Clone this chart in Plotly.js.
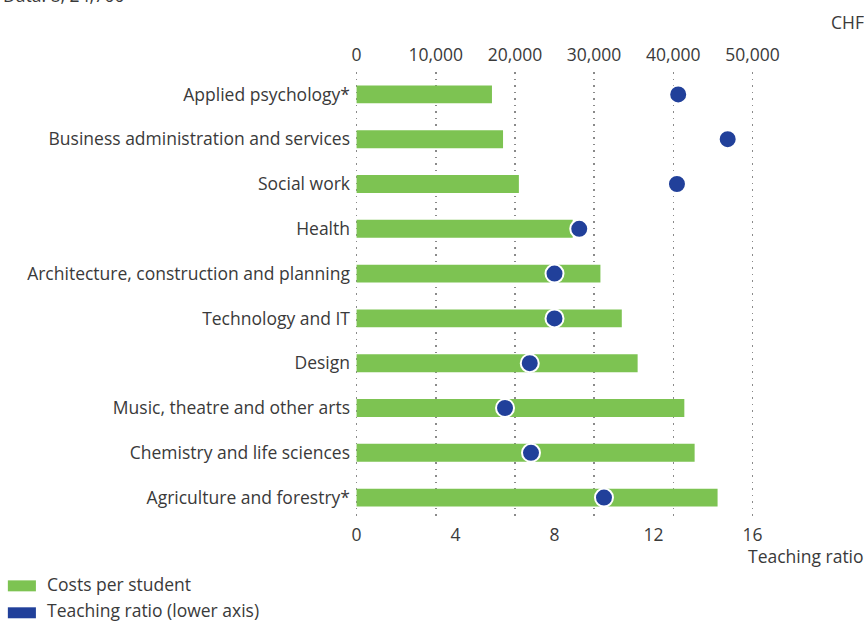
<!DOCTYPE html>
<html><head><meta charset="utf-8">
<script src="https://cdn.plot.ly/plotly-3.0.1.min.js"></script>
<style>body{margin:0;padding:0;background:#fff}#chart{width:864px;height:623px}</style>
</head><body><div id="chart"></div>
<script>
const categories = ["Applied psychology*","Business administration and services","Social work","Health","Architecture, construction and planning","Technology and IT","Design","Music, theatre and other arts","Chemistry and life sciences","Agriculture and forestry*"];
const costsPerStudent = [17100, 18500, 20500, 27300, 30800, 33500, 35500, 41400, 42700, 45600];
const teachingRatio = [13.0, 15.0, 12.95, 9.0, 8.0, 8.0, 7.0, 6.0, 7.05, 10.0];
const topTicks = [0, 10000, 20000, 30000, 40000, 50000];
const bottomTicks = [0, 4, 8, 12, 16];

const W = 864, H = 623;
const X0 = 357, X1 = 752;            // pixel of 0 and of 50000 / 16
const padU = 200;                     // small padding in CHF so edge gridlines are drawn
const k = (X1 - X0) / 50000;
const L = X0 - padU * k, R = W - (X1 + padU * k);
const T = 71.5, B = 102.5;
const pw = W - L - R, ph = H - T - B;
const px = x => (x - L) / pw;
const py = y => 1 - (y - T) / ph;
const FONT = "Open Sans, sans-serif";
const FS = 17.5;
const TXT = "#3a3a3a";
const GREEN = "#7dc352", BLUE = "#21409a";
const padR = padU * 16 / 50000;

const traces = [
  {type: "bar", orientation: "h", y: categories, x: costsPerStudent, xaxis: "x", yaxis: "y",
   width: 0.4, marker: {color: GREEN, line: {width: 0}}, showlegend: false, hoverinfo: "skip"},
  {type: "scatter", mode: "markers", y: categories, x: teachingRatio, xaxis: "x2", yaxis: "y",
   marker: {color: BLUE, size: 18, line: {color: "#ffffff", width: 2}}, showlegend: false, hoverinfo: "skip"}
];

const layout = {
  width: W, height: H,
  margin: {l: L, r: R, t: T, b: B, pad: 0},
  paper_bgcolor: "#fff", plot_bgcolor: "#fff",
  font: {family: FONT, size: FS, color: TXT},
  showlegend: false,
  xaxis: {side: "top", range: [-padU, 50000 + padU], tickvals: topTicks, tickformat: ",", ticks: "",
          showgrid: true, gridcolor: "#8a8a8a", griddash: "1.5px,5px", gridwidth: 1.5,
          zeroline: false, showline: false, tickfont: {size: FS, color: TXT}, ticklabelstandoff: 7},
  xaxis2: {side: "bottom", overlaying: "x", range: [-padR, 16 + padR], tickvals: bottomTicks, ticks: "",
           showgrid: false, zeroline: false, showline: false, tickfont: {size: FS, color: TXT},
           ticklabelstandoff: 2},
  yaxis: {type: "category", range: [9.5, -0.5], ticks: "", showgrid: false, zeroline: false,
          showline: false, tickfont: {size: FS, color: TXT}, ticklabelstandoff: 4},
  shapes: [
    {type: "rect", xref: "paper", yref: "paper", x0: px(9), x1: px(37), y0: py(581), y1: py(592),
     fillcolor: GREEN, line: {width: 0}},
    {type: "rect", xref: "paper", yref: "paper", x0: px(9), x1: px(37), y0: py(608), y1: py(619),
     fillcolor: BLUE, line: {width: 0}}
  ],
  annotations: [
    {xref: "paper", yref: "paper", x: px(46), y: py(585), xanchor: "left", yanchor: "middle",
     text: "Costs per student", showarrow: false, font: {size: FS, color: TXT}},
    {xref: "paper", yref: "paper", x: px(46), y: py(611), xanchor: "left", yanchor: "middle",
     text: "Teaching ratio (lower axis)", showarrow: false, font: {size: FS, color: TXT}},
    {xref: "paper", yref: "paper", x: px(865), y: py(21), xanchor: "right", yanchor: "middle",
     text: "CHF", showarrow: false, font: {size: FS, color: TXT}},
    {xref: "paper", yref: "paper", x: px(865), y: py(557), xanchor: "right", yanchor: "middle",
     text: "Teaching ratio", showarrow: false, font: {size: FS, color: TXT}},
    {xref: "paper", yref: "paper", x: px(2), y: py(-6), xanchor: "left", yanchor: "middle",
     text: "Data: 8, 24,766", showarrow: false, font: {size: FS, color: TXT}}
  ]
};
Plotly.newPlot("chart", traces, layout, {displayModeBar: false, staticPlot: true});
</script></body></html>
